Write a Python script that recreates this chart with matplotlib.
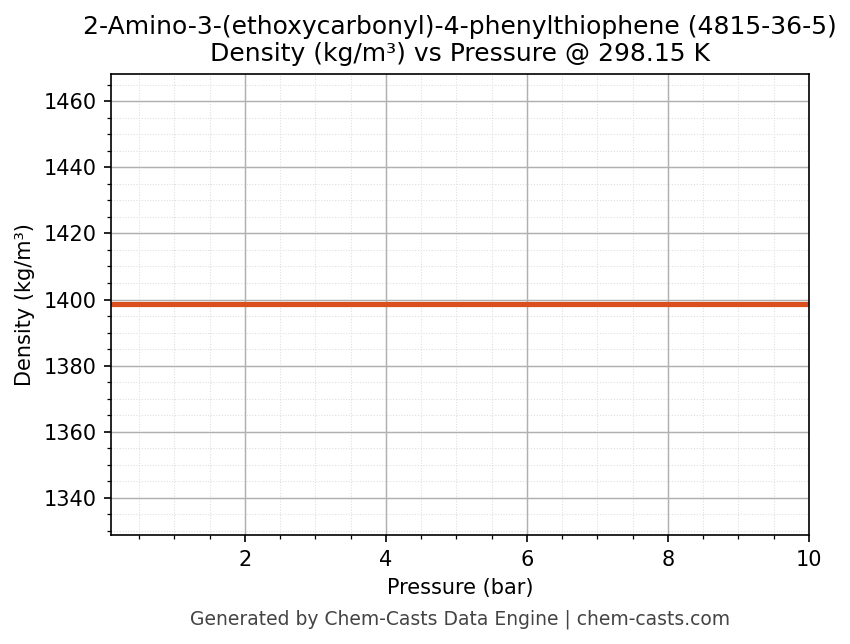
import matplotlib
matplotlib.use("Agg")
import matplotlib.pyplot as plt
from matplotlib.ticker import MultipleLocator

pressure = [0.1, 1, 2, 3, 4, 5, 6, 7, 8, 9, 10]
density = [1398.6] * len(pressure)

fig = plt.figure(figsize=(851/150, 644/150), dpi=150)
ax = fig.add_axes([111/851, 1-535/644, (809-111)/851, (535-74)/644])
ax.plot(pressure, density, color="#d9501e", lw=2.5)
ax.set_xlim(0.1, 10)
ax.set_ylim(1328.8, 1468.2)
ax.xaxis.set_major_locator(MultipleLocator(2))
ax.xaxis.set_minor_locator(MultipleLocator(0.5))
ax.yaxis.set_major_locator(MultipleLocator(20))
ax.yaxis.set_minor_locator(MultipleLocator(5))
ax.grid(which="major", color="#b0b0b0", lw=0.7)
ax.grid(which="minor", color="#dddddd", lw=0.5, ls=":")
ax.set_xlabel("Pressure (bar)")
ax.set_ylabel("Density (kg/m³)")
ax.set_title("2-Amino-3-(ethoxycarbonyl)-4-phenylthiophene (4815-36-5)\nDensity (kg/m³) vs Pressure @ 298.15 K", fontsize=12)
fig.text(460/851, 1-619/644, "Generated by Chem-Casts Data Engine | chem-casts.com", ha="center", va="center", fontsize=9, color="#444444")
fig.savefig("out.png", dpi=150)
